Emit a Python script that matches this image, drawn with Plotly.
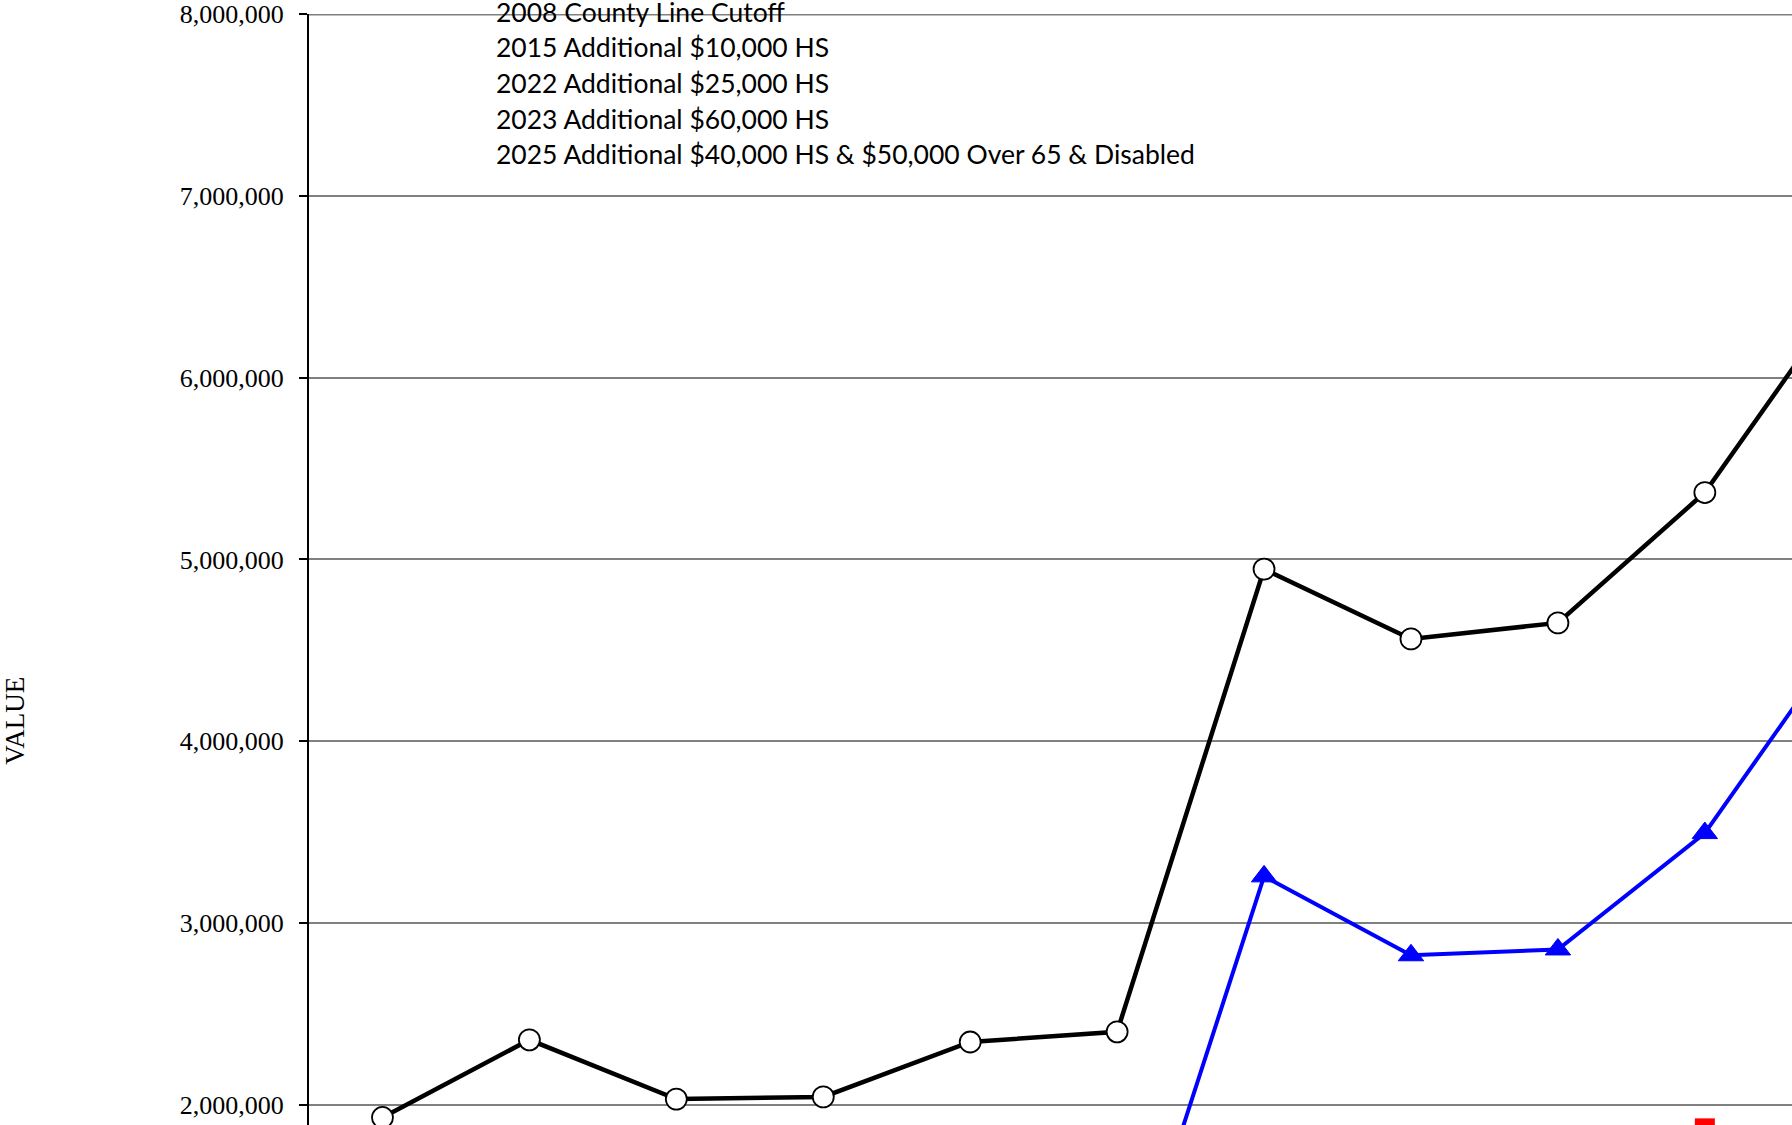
import plotly.graph_objects as go

# ---- data ----
categories = ["1", "2", "3", "4", "5", "6", "7", "8", "9", "10", "11"]
black_values = [1931000, 2358000, 2032000, 2044000, 2346000, 2402000,
                4947000, 4563000, 4651000, 5368000, 6510000]
blue_values = [None, None, None, None, None, 760000,
               3257000, 2823000, 2855000, 3495000, 4640000]
red_values = [None, None, None, None, None, None,
              None, None, None, 1871000, None]
y_ticks = [2000000, 3000000, 4000000, 5000000, 6000000, 7000000, 8000000]
notes = [
    "2008 County Line Cutoff",
    "2015 Additional $10,000 HS",
    "2022 Additional $25,000 HS",
    "2023 Additional $60,000 HS",
    "2025 Additional $40,000 HS & $50,000 Over 65 & Disabled",
]
axis_title = "VALUE"

fig = go.Figure()
fig.add_trace(go.Scatter(
    x=categories, y=blue_values, mode="lines+markers",
    line=dict(color="#0000FF", width=4),
    marker=dict(symbol="triangle-up", size=22, color="#0000FF",
                line=dict(color="#0000FF", width=1)),
    connectgaps=False, showlegend=False))
fig.add_trace(go.Scatter(
    x=categories, y=red_values, mode="lines+markers",
    line=dict(color="#FF0000", width=4),
    marker=dict(symbol="square", size=20, color="#FF0000"),
    showlegend=False))
fig.add_trace(go.Scatter(
    x=categories, y=black_values, mode="lines+markers",
    line=dict(color="#000000", width=4.5),
    marker=dict(symbol="circle", size=21, color="#FFFFFF",
                line=dict(color="#000000", width=1.8)),
    showlegend=False))

W, H = 1792, 1125
L, T = 308.6, 13.5
plot_w = W - L
plot_h = H - T

annotations = []
line_px = [11.5, 47, 82.5, 118.5, 154]
for txt, py in zip(notes, line_px):
    annotations.append(dict(
        text=txt, xref="paper", yref="paper",
        x=(494 - L) / plot_w, y=(H - py) / plot_h,
        xanchor="left", yanchor="middle", showarrow=False,
        font=dict(family="Lato", size=26.5, color="#000000")))
annotations.append(dict(
    text=axis_title, xref="paper", yref="paper",
    x=(15 - L) / plot_w, y=(H - 720) / plot_h,
    xanchor="center", yanchor="middle", textangle=-90, showarrow=False,
    font=dict(family="Liberation Serif", size=27, color="#000000")))

n_visible = (W - L) / 146.97
fig.update_layout(
    width=W, height=H,
    margin=dict(l=L, r=0, t=T, b=0, pad=0, autoexpand=False),
    paper_bgcolor="#FFFFFF", plot_bgcolor="#FFFFFF",
    annotations=annotations,
    shapes=[dict(type="line", xref="paper", yref="y", x0=0, x1=1,
                 y0=8000000, y1=8000000, layer="above",
                 line=dict(color="#808080", width=3))],
    xaxis=dict(type="category", range=[-0.5, -0.5 + n_visible],
               showgrid=False, showticklabels=False, ticks="",
               showline=False, zeroline=False),
    yaxis=dict(range=[8000000 - plot_h / 181.9 * 1e6, 8000000],
               tickvals=y_ticks, tickformat=",d",
               showgrid=True, gridcolor="#808080", gridwidth=2,
               showline=True, linecolor="#000000", linewidth=2,
               ticks="outside", ticklen=8, tickwidth=1.5, tickcolor="#000000",
               ticklabelstandoff=10,
               tickfont=dict(family="Liberation Serif", size=26, color="#000000"),
               zeroline=False),
)

fig.write_html(
    "out.html",
    config={"displayModeBar": False},
    post_script="document.body.style.margin='0';document.body.style.overflow='hidden';",
)
